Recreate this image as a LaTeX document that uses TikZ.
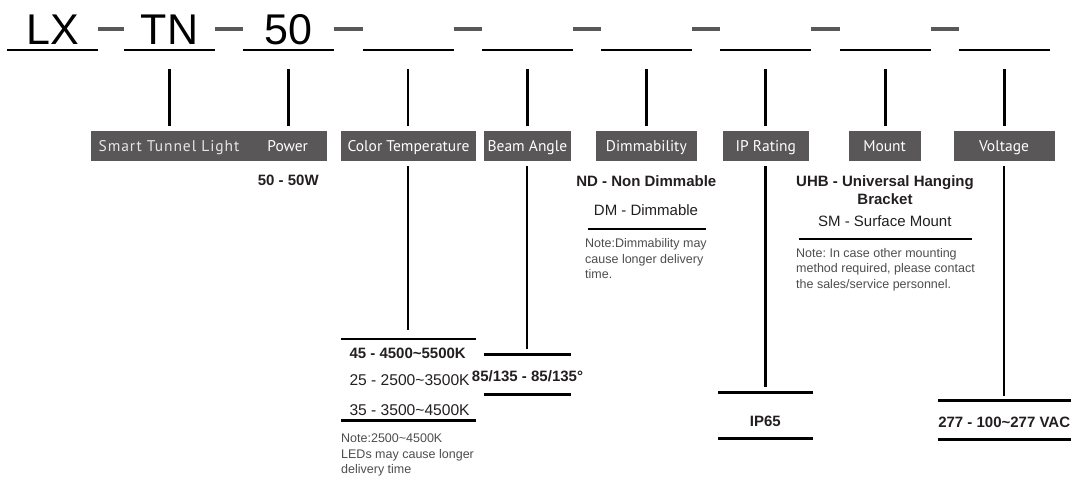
\documentclass[tikz,border=0pt]{standalone}
\usepackage{fontspec}
\setmainfont{Liberation Sans}
\newfontfamily\labelfont{PT Sans}
\newfontfamily\lightlabelfont[LetterSpace=6]{PT Sans}
\definecolor{barGray}{HTML}{595757}
\definecolor{inkBlack}{HTML}{231F20}
\definecolor{noteGray}{HTML}{4D4D4D}
\definecolor{softWhite}{HTML}{E6E6E6}
\begin{document}
\frenchspacing
\begin{tikzpicture}[x=1pt,y=-1pt,
  uline/.style={line width=2pt, draw=black},
  dashbar/.style={line width=4pt, draw=barGray},
  conn/.style={line width=2.6pt, draw=black},
  rulebar/.style={line width=2.6pt, draw=black},
  codetext/.style={font=\fontsize{43}{43}\selectfont, text=black, inner sep=0, anchor=base},
  labelbox/.style={fill=barGray, draw=none, minimum height=30pt, inner sep=0},
  labeltext/.style={font=\labelfont\fontsize{15.5}{18}\selectfont, text=white, inner sep=0, anchor=base},
  lighttext/.style={font=\lightlabelfont\fontsize{15.5}{18}\selectfont, text=softWhite, inner sep=0, anchor=base},
  optbold/.style={font=\bfseries\fontsize{15}{18}\selectfont, text=inkBlack, inner sep=0},
  optreg/.style={font=\fontsize{15}{18}\selectfont, text=inkBlack, inner sep=0},
  optregbig/.style={font=\fontsize{15.6}{18}\selectfont, text=inkBlack, inner sep=0},
  notetext/.style={font=\fontsize{12.5}{15}\selectfont, text=noteGray, inner sep=0, anchor=base west}
]
\useasboundingbox (0,0) rectangle (1073,477);

% ---------- top code row ----------
\foreach \i/\s in {1/7.2, 2/124, 3/242.8, 4/362.6, 5/482.1, 6/601, 7/719.8, 8/840, 9/958.7} {
  \coordinate (uL\i) at (\s,49.5);
  \coordinate (uR\i) at (\s+91,49.5);
  \coordinate (dS\i) at (\s,29.4);
  \coordinate (dE\i) at (\s+91,29.4);
  \coordinate (uC\i) at (\s+45.5,69);
  \coordinate (cB\i) at (\s+45.5,126);
}
\foreach \i in {1,...,9} { \draw[uline] (uL\i) -- (uR\i); }
\foreach \i in {1,...,8} {
  \pgfmathtruncatemacro{\j}{\i+1}
  \draw[dashbar] (dE\i) -- (dS\j);
}
\node[codetext] (cLX) at (52.7,44.8) {LX};
\node[codetext] (cTN) at (169.5,44.8) {TN};
\node[codetext] (c50) at (288.3,44.8) {50};

% ---------- label boxes ----------
\node[labelbox, minimum width=236.6pt] (bSTL) at (208.9,146) {};
\node[labelbox, minimum width=135pt] (bCT) at (408.5,146) {};
\node[labelbox, minimum width=87pt] (bBA) at (527.4,146) {};
\node[labelbox, minimum width=101pt] (bDM) at (646.3,146) {};
\node[labelbox, minimum width=86pt] (bIP) at (765.8,146) {};
\node[labelbox, minimum width=72pt] (bMT) at (884.6,146) {};
\node[labelbox, minimum width=101pt] (bVO) at (1004,146) {};

\node[lighttext] (tSTL) at (169,151.4) {Smart Tunnel Light};
\node[labeltext] (tPW) at (287.7,151.4) {Power};
\node[labeltext] (tCT) at (408.5,151.4) {Color Temperature};
\node[labeltext] (tBA) at (527.4,151.4) {Beam Angle};
\node[labeltext] (tDM) at (646.3,151.4) {Dimmability};
\node[labeltext] (tIP) at (765.8,151.4) {IP Rating};
\node[labeltext] (tMT) at (884.6,151.4) {Mount};
\node[labeltext] (tVO) at (1004,151.4) {Voltage};

% ---------- connectors code -> boxes ----------
\foreach \i in {2,...,9} { \draw[conn] (uC\i) -- (cB\i); }

% ---------- Power ----------
\node[optbold, anchor=base] (oPW) at (288.3,185.4) {50 - 50W};

% ---------- Color temperature ----------
\coordinate (ctEnd) at (408.1,329.5);
\coordinate (ctStart) at (408.1,166);
\draw[conn] (ctStart) -- (ctEnd);
\coordinate (ctR1a) at (341,339); \coordinate (ctR1b) at (476,339);
\coordinate (ctR2a) at (341,420.7); \coordinate (ctR2b) at (476,420.7);
\draw[rulebar] (ctR1a) -- (ctR1b);
\draw[rulebar] (ctR2a) -- (ctR2b);
\node[optbold, anchor=base west] (oCT1) at (349.3,358.7) {45 - 4500\textasciitilde5500K};
\node[optregbig, anchor=base west] (oCT2) at (349.3,385.8) {25 - 2500\textasciitilde3500K};
\node[optregbig, anchor=base west] (oCT3) at (349.3,415.8) {35 - 3500\textasciitilde4500K};
\node[notetext] (nCT1) at (341,442.6) {Note:2500\textasciitilde4500K};
\node[notetext] (nCT2) at (341,458.0) {LEDs may cause longer};
\node[notetext] (nCT3) at (341,473.4) {delivery time};

% ---------- Beam angle ----------
\coordinate (baStart) at (526.9,166);
\coordinate (baEnd) at (526.9,349.3);
\draw[conn] (baStart) -- (baEnd);
\coordinate (baR1a) at (484.3,354.7); \coordinate (baR1b) at (571,354.7);
\coordinate (baR2a) at (484.3,394.7); \coordinate (baR2b) at (571,394.7);
\draw[rulebar] (baR1a) -- (baR1b);
\draw[rulebar] (baR2a) -- (baR2b);
\node[optbold, anchor=base] (oBA) at (527.5,381.2) {85/135 - 85/135°};

% ---------- Dimmability ----------
\node[optbold, anchor=base] (oDM1) at (646.3,186) {ND - Non Dimmable};
\node[optreg, anchor=base] (oDM2) at (646,215) {DM - Dimmable};
\coordinate (dmRa) at (588.3,229); \coordinate (dmRb) at (706,229);
\draw[rulebar] (dmRa) -- (dmRb);
\node[notetext] (nDM1) at (585,247.8) {Note:Dimmability may};
\node[notetext] (nDM2) at (585,263.1) {cause longer delivery};
\node[notetext] (nDM3) at (585,278.0) {time.};

% ---------- IP rating ----------
\coordinate (ipStart) at (765.7,166);
\coordinate (ipEnd) at (765.7,386.7);
\draw[conn] (ipStart) -- (ipEnd);
\coordinate (ipR1a) at (718.3,392.7); \coordinate (ipR1b) at (812.7,392.7);
\coordinate (ipR2a) at (718.3,438.3); \coordinate (ipR2b) at (812.7,438.3);
\draw[rulebar] (ipR1a) -- (ipR1b);
\draw[rulebar] (ipR2a) -- (ipR2b);
\node[optbold, anchor=base] (oIP) at (765.3,426.2) {IP65};

% ---------- Mount ----------
\node[optbold, anchor=base] (oMT1) at (885,186) {UHB - Universal Hanging};
\node[optbold, anchor=base] (oMT2) at (885,204.5) {Bracket};
\node[optreg, anchor=base] (oMT3) at (884.8,226.2) {SM - Surface Mount};
\coordinate (mtRa) at (799,239); \coordinate (mtRb) at (972.3,239);
\draw[rulebar] (mtRa) -- (mtRb);
\node[notetext] (nMT1) at (796,257.0) {Note: In case other mounting};
\node[notetext] (nMT2) at (796,272.6) {method required, please contact};
\node[notetext] (nMT3) at (796,288.2) {the sales/service personnel.};

% ---------- Voltage ----------
\coordinate (voStart) at (1004,166);
\coordinate (voEnd) at (1004,396);
\draw[conn] (voStart) -- (voEnd);
\coordinate (voR1a) at (938.3,400.7); \coordinate (voR1b) at (1071,400.7);
\coordinate (voR2a) at (938.3,439.3); \coordinate (voR2b) at (1071,439.3);
\draw[rulebar] (voR1a) -- (voR1b);
\draw[rulebar] (voR2a) -- (voR2b);
\node[optbold, anchor=base] (oVO) at (1004.2,427.9) {277 - 100\textasciitilde277 VAC};
\end{tikzpicture}
\end{document}
